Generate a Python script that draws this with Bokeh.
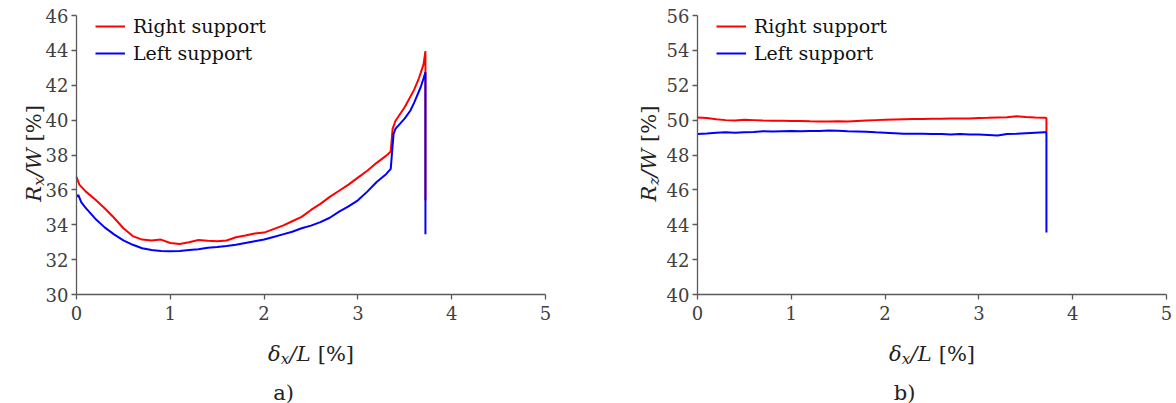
import math
from bokeh.plotting import figure
from bokeh.models import Label, Legend, LegendItem, FixedTicker, Range1d
from bokeh.layouts import row
from bokeh.embed import file_html
from bokeh.resources import INLINE

FONT = "DejaVu Serif"

# ---------------- data ----------------
x_ticks = [0, 1, 2, 3, 4, 5]
a_y_ticks = [30, 32, 34, 36, 38, 40, 42, 44, 46]
b_y_ticks = [40, 42, 44, 46, 48, 50, 52, 54, 56]

# panel a) Rx/W [%]
a_right_x = [0, 0.03, 0.1, 0.2, 0.3, 0.4, 0.5, 0.6, 0.7, 0.8, 0.9, 1.0, 1.1, 1.2,
             1.3, 1.4, 1.5, 1.6, 1.7, 1.8, 1.9, 2.0, 2.1, 2.2, 2.3, 2.4, 2.5, 2.6,
             2.7, 2.8, 2.9, 3.0, 3.1, 3.2, 3.3, 3.35, 3.37, 3.4, 3.5, 3.6, 3.65,
             3.7, 3.72, 3.72]
a_right_y = [36.75, 36.3, 35.9, 35.45, 34.95, 34.4, 33.8, 33.35, 33.15, 33.1, 33.15,
             32.95, 32.9, 33.0, 33.12, 33.08, 33.05, 33.1, 33.28, 33.38, 33.5, 33.55,
             33.75, 33.95, 34.2, 34.45, 34.85, 35.2, 35.6, 35.95, 36.3, 36.7, 37.1,
             37.55, 37.95, 38.2, 39.5, 39.95, 40.75, 41.75, 42.4, 43.2, 43.95, 35.4]
a_left_x = [0, 0.02, 0.05, 0.1, 0.2, 0.3, 0.4, 0.5, 0.6, 0.7, 0.8, 0.9, 1.0, 1.1,
            1.2, 1.3, 1.4, 1.5, 1.6, 1.7, 1.8, 1.9, 2.0, 2.1, 2.2, 2.3, 2.4, 2.5,
            2.6, 2.7, 2.8, 2.9, 3.0, 3.1, 3.2, 3.3, 3.35, 3.38, 3.4, 3.5, 3.56,
            3.6, 3.67, 3.7, 3.72, 3.72]
a_left_y = [35.6, 35.7, 35.3, 34.95, 34.35, 33.85, 33.45, 33.1, 32.85, 32.65, 32.55,
            32.5, 32.48, 32.5, 32.55, 32.6, 32.68, 32.72, 32.78, 32.85, 32.95, 33.05,
            33.15, 33.3, 33.45, 33.6, 33.8, 33.95, 34.15, 34.4, 34.75, 35.05, 35.4,
            35.9, 36.45, 36.9, 37.2, 39.2, 39.5, 40.1, 40.55, 41.0, 41.9, 42.4,
            42.75, 33.45]

# panel b) Rz/W [%]
b_right_x = [0, 0.1, 0.2, 0.3, 0.4, 0.5, 0.6, 0.7, 0.8, 0.9, 1.0, 1.1, 1.2, 1.3,
             1.4, 1.5, 1.6, 1.7, 1.8, 1.9, 2.0, 2.1, 2.2, 2.3, 2.4, 2.5, 2.6, 2.7,
             2.8, 2.9, 3.0, 3.1, 3.2, 3.3, 3.4, 3.5, 3.6, 3.7, 3.72, 3.72]
b_right_y = [50.15, 50.12, 50.05, 50.0, 49.98, 50.02, 50.0, 49.98, 49.97, 49.96,
             49.95, 49.95, 49.93, 49.92, 49.92, 49.93, 49.92, 49.95, 49.98, 50.0,
             50.02, 50.04, 50.05, 50.06, 50.07, 50.08, 50.08, 50.09, 50.1, 50.1,
             50.12, 50.13, 50.15, 50.17, 50.22, 50.18, 50.15, 50.13, 50.12, 49.3]
b_left_x = [0, 0.1, 0.2, 0.3, 0.4, 0.5, 0.6, 0.7, 0.8, 0.9, 1.0, 1.1, 1.2, 1.3,
            1.4, 1.5, 1.6, 1.7, 1.8, 1.9, 2.0, 2.1, 2.2, 2.3, 2.4, 2.5, 2.6, 2.7,
            2.8, 2.9, 3.0, 3.1, 3.2, 3.3, 3.4, 3.5, 3.6, 3.7, 3.72, 3.72]
b_left_y = [49.2, 49.23, 49.28, 49.3, 49.28, 49.3, 49.32, 49.36, 49.35, 49.36,
            49.37, 49.36, 49.38, 49.38, 49.4, 49.39, 49.36, 49.35, 49.33, 49.3,
            49.28, 49.25, 49.22, 49.22, 49.22, 49.2, 49.2, 49.18, 49.2, 49.18,
            49.17, 49.15, 49.12, 49.2, 49.22, 49.25, 49.28, 49.3, 49.3, 43.55]

series_names = ["Right support", "Left support"]
series_colors = ["#ff0000", "#0000ff"]

AXIS_COLOR = "#5a5a5a"
TICK_TEXT = "#404040"

W, H = 588, 403          # each panel canvas
FW, FH = 469, 279        # data area size in pixels
TOP = 15                 # data area top offset
NB = "\u00a0"


def add_text(p, x, y, text, size, style="normal", angle=0.0, align="left"):
    p.add_layout(Label(x=x, y=y, x_units="screen", y_units="screen", text=text,
                       text_font=FONT, text_font_size=f"{size}px",
                       text_font_style=style, text_color="#222222",
                       text_align=align, text_baseline="alphabetic",
                       angle=angle))


def make_panel(yticks, rx, ry, lx, ly, sub, caption, bl, ylab_x):
    x0, x1 = x_ticks[0], x_ticks[-1]
    y0, y1 = yticks[0], yticks[-1]
    ux = FW / (x1 - x0)
    uy = FH / (y1 - y0)
    br = W - bl - FW
    bb = H - TOP - FH
    p = figure(output_backend="svg", toolbar_location=None, title=None,
               width=W, height=H, min_border=0,
               x_range=Range1d(x0 - bl / ux, x1 + br / ux),
               y_range=Range1d(y0 - bb / uy, y1 + TOP / uy))
    p.outline_line_color = None
    p.xgrid.visible = False
    p.ygrid.visible = False
    p.background_fill_color = "white"
    p.border_fill_color = "white"
    p.xaxis.ticker = FixedTicker(ticks=x_ticks)
    p.yaxis.ticker = FixedTicker(ticks=yticks)
    p.xaxis.fixed_location = y0
    p.yaxis.fixed_location = x0
    p.xaxis.bounds = (x0, x1)
    p.yaxis.bounds = (y0, y1)
    for ax in (p.xaxis, p.yaxis):
        ax.axis_line_color = AXIS_COLOR
        ax.axis_line_width = 1.3
        ax.major_tick_line_color = AXIS_COLOR
        ax.major_tick_line_width = 1.3
        ax.major_tick_out = 5
        ax.major_tick_in = 0
        ax.minor_tick_out = 0
        ax.minor_tick_in = 0
        ax.major_label_text_font = FONT
        ax.major_label_text_font_size = "18px"
        ax.major_label_text_color = TICK_TEXT
    p.xaxis.major_label_standoff = 6
    p.yaxis.major_label_standoff = 3

    r1 = p.line(rx, ry, line_color=series_colors[0], line_width=2)
    r2 = p.line(lx, ly, line_color=series_colors[1], line_width=2)
    legend = Legend(items=[LegendItem(label=series_names[0], renderers=[r1]),
                           LegendItem(label=series_names[1], renderers=[r2])],
                    location=(bl + 19, 339), padding=0, margin=0,
                    spacing=5, glyph_width=30, glyph_height=18, label_height=18,
                    label_standoff=8, label_text_font=FONT,
                    label_text_font_size="19px", label_text_color="#111111",
                    border_line_color=None, background_fill_alpha=0)
    p.add_layout(legend)

    # x axis label: delta_x/L [%]
    fs = 21
    fss = 15
    w_rest = 2.048 * fs
    w_delta, w_sub, w_sl = 0.61 * fs, 0.586 * fss, 1.021 * fs
    total = w_delta + w_sub + w_sl + w_rest
    xs = bl + FW / 2 - total / 2
    yb = H - 353
    add_text(p, xs, yb, "\u03b4", fs, "italic")
    add_text(p, xs + w_delta, yb - 5, "x", fss, "italic")
    add_text(p, xs + w_delta + w_sub, yb, "/L", fs, "italic")
    add_text(p, xs + w_delta + w_sub + w_sl, yb, NB + "[%]", fs)

    # y axis label: R_sub/W [%]
    w_r = 0.77 * fs
    w_s = (0.586 if sub == "x" else 0.53) * fss
    w_w = 1.367 * fs
    total = w_r + w_s + w_w + w_rest
    ys = (H - 153) - total / 2
    ang = math.pi / 2
    add_text(p, ylab_x, ys, "R", fs, "italic", ang)
    add_text(p, ylab_x + 5, ys + w_r, sub, fss, "italic", ang)
    add_text(p, ylab_x, ys + w_r + w_s, "/W", fs, "italic", ang)
    add_text(p, ylab_x, ys + w_r + w_s + w_w, NB + "[%]", fs, "normal", ang)

    # caption
    add_text(p, bl + 207, H - 392, caption, fs, "normal", 0.0, "center")
    return p


pa = make_panel(a_y_ticks, a_right_x, a_right_y, a_left_x, a_left_y,
                "x", "a)", 76, 33)
pb = make_panel(b_y_ticks, b_right_x, b_right_y, b_left_x, b_left_y,
                "z", "b)", 109, 60)

layout = row(pa, pb)
open("out.html", "w").write(file_html(layout, INLINE))
